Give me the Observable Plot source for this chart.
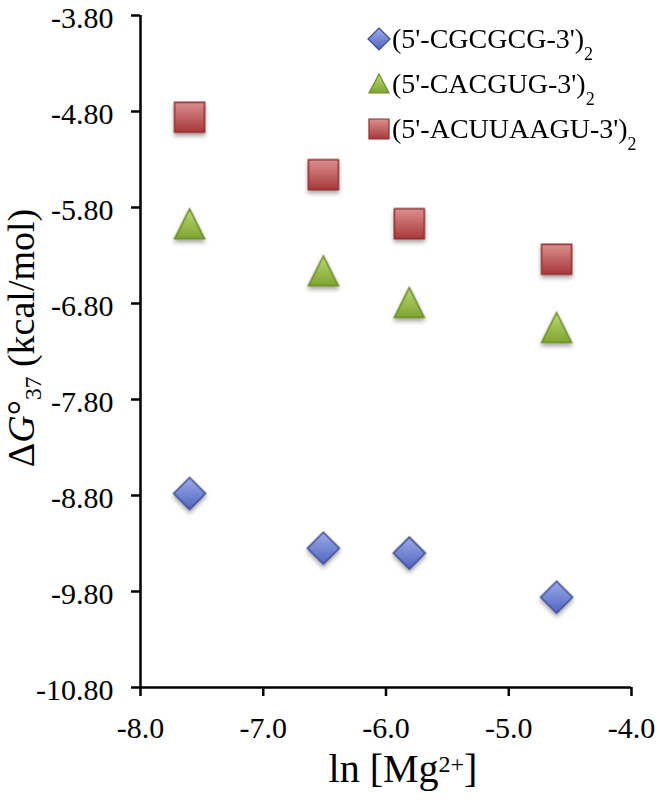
<!DOCTYPE html>
<html>
<head>
<meta charset="utf-8">
<script src="https://cdn.jsdelivr.net/npm/d3@7"></script>
<script src="https://cdn.jsdelivr.net/npm/@observablehq/plot@0.6"></script>
<style>
  html, body { margin: 0; padding: 0; background: #fff; }
  #wrap { position: relative; width: 660px; height: 800px; }
  #legend { position: absolute; left: 366px; top: 16px; font-size: 28px; color: #000; font-family: 'Liberation Serif', 'Times New Roman', serif; }
  #legend span, #legend sub { font-family: 'Liberation Serif', 'Times New Roman', serif; }
  .row { display: flex; align-items: center; height: 45px; white-space: nowrap; }
  .row svg { width: 26px; height: 26px; flex: none; }
  .row sub { font-size: 18px; vertical-align: -12px; line-height: 0; }
</style>
</head>
<body>
<div id="wrap"></div>
<script>
// ---- data ----
const lnMg = [-7.60, -6.51, -5.81, -4.61];
const seriesNames = ["(5'-CGCGCG-3')", "(5'-CACGUG-3')", "(5'-ACUUAAGU-3')"];
const cgcgcg = [-8.78, -9.35, -9.40, -9.86];
const cacgug = [-5.97, -6.46, -6.79, -7.05];
const acuuaagu = [-4.86, -5.46, -5.97, -6.34];
const xTicks = [-8, -7, -6, -5, -4];
const yTicks = [-3.8, -4.8, -5.8, -6.8, -7.8, -8.8, -9.8, -10.8];

const SERIF = "Liberation Serif";

// ---- custom marker shapes (centered on their bounding box) ----
const squareSym = {draw(ctx, size) { const r = Math.sqrt(size / Math.PI); ctx.moveTo(-r, -r); ctx.lineTo(r, -r); ctx.lineTo(r, r); ctx.lineTo(-r, r); ctx.closePath(); }};
const triangleSym = {draw(ctx, size) { const r = Math.sqrt(size / Math.PI); ctx.moveTo(0, -r); ctx.lineTo(r, r); ctx.lineTo(-r, r); ctx.closePath(); }};
const diamondSym = {draw(ctx, size) { const r = Math.sqrt(size / Math.PI); ctx.moveTo(0, -r); ctx.lineTo(r, 0); ctx.lineTo(0, r); ctx.lineTo(-r, 0); ctx.closePath(); }};

const rows = (ys) => lnMg.map((x, i) => ({x, y: ys[i]}));

const chart = Plot.plot({
  width: 660,
  height: 800,
  marginLeft: 140,
  marginRight: 29,
  marginTop: 15,
  marginBottom: 113,
  style: {fontFamily: SERIF, color: "#000", background: "#fff"},
  x: {domain: [-8, -4]},
  y: {domain: [-10.8, -3.8]},
  marks: [
    Plot.axisX(xTicks, {tickFormat: d => d.toFixed(1), tickSize: 9, tickPadding: 20, fontSize: 30, fontFamily: SERIF, strokeWidth: 2.5, label: null}),
    Plot.axisY(yTicks, {tickSize: 9, tickFormat: () => "", strokeWidth: 2.5, label: null}),
    Plot.axisY(yTicks, {tickFormat: d => d.toFixed(2), tickSize: 0, tickPadding: 27, dy: 2.5, fontSize: 30, fontFamily: SERIF, label: null}),
    Plot.ruleX([-8], {stroke: "#000", strokeWidth: 2.5}),
    Plot.ruleY([-10.8], {stroke: "#000", strokeWidth: 2.5}),
    Plot.dot(rows(cgcgcg), {x: "x", y: "y", symbol: diamondSym, r: 16, fill: "url(#gDia)", stroke: "#3b4c8c", strokeWidth: 1.5}),
    Plot.dot(rows(cacgug), {x: "x", y: "y", symbol: triangleSym, r: 15, fill: "url(#gTri)", stroke: "#6a8c2a", strokeWidth: 1.5}),
    Plot.dot(rows(acuuaagu), {x: "x", y: "y", symbol: squareSym, r: 15, fill: "url(#gSq)", stroke: "#8a2d2e", strokeWidth: 1.5})
  ]
});

const svg = d3.select(chart);
const defs = svg.insert("defs", ":first-child");
function grad(id, top, bottom) {
  const g = defs.append("linearGradient").attr("id", id).attr("x1", 0).attr("y1", 0).attr("x2", 0).attr("y2", 1);
  g.append("stop").attr("offset", "0%").attr("stop-color", top);
  g.append("stop").attr("offset", "100%").attr("stop-color", bottom);
}
grad("gDia", "#9eaaea", "#5065c0");
grad("gTri", "#bcd871", "#7ea532");
grad("gSq", "#dc8e8f", "#a8393b");
defs.append("filter").attr("id", "shadow").attr("x", "-50%").attr("y", "-50%").attr("width", "200%").attr("height", "200%")
  .append("feDropShadow").attr("dx", 0).attr("dy", 3).attr("stdDeviation", 2).attr("flood-color", "#000").attr("flood-opacity", 0.35);
svg.selectAll("g[aria-label='dot']").attr("filter", "url(#shadow)");
svg.selectAll("text").attr("font-family", SERIF);
// drop the empty label texts of the ticks-only axis
svg.selectAll("text").filter(function () { return this.textContent === ""; }).remove();

// axis titles with super/subscripts
const xl = svg.append("text").attr("x", 403).attr("y", 782).attr("text-anchor", "middle")
  .attr("font-size", 40).attr("font-family", SERIF).attr("fill", "#000");
xl.append("tspan").text("ln [Mg");
xl.append("tspan").attr("dy", "-0.42em").attr("font-size", "0.6em").text("2+");
xl.append("tspan").attr("dy", "0.25em").text("]");

const yl = svg.append("text").attr("transform", "translate(34,338) rotate(-90)").attr("text-anchor", "middle")
  .attr("font-size", 38).attr("font-family", SERIF).attr("fill", "#000");
yl.append("tspan").text("Δ");
yl.append("tspan").attr("font-style", "italic").text("G");
yl.append("tspan").text("°");
yl.append("tspan").attr("font-size", "0.62em").attr("dy", "0.3em").text("37");
yl.append("tspan").attr("dy", "-0.19em").text(" (kcal/mol)");

const wrap = document.getElementById("wrap");
wrap.appendChild(chart);

// legend
const legend = document.createElement("div");
legend.id = "legend";
const swatches = [
  `<svg viewBox="-13 -13 26 26"><path d="M0,-11L11,0L0,11L-11,0Z" fill="url(#gDia)" stroke="#3b4c8c" stroke-width="1.2"/></svg>`,
  `<svg viewBox="-13 -13 26 26"><path d="M0,-10L10,9L-10,9Z" fill="url(#gTri)" stroke="#6a8c2a" stroke-width="1.2"/></svg>`,
  `<svg viewBox="-13 -13 26 26"><path d="M-10,-10L10,-10L10,10L-10,10Z" fill="url(#gSq)" stroke="#8a2d2e" stroke-width="1.2"/></svg>`
];
seriesNames.forEach((name, i) => {
  const row = document.createElement("div");
  row.className = "row";
  row.innerHTML = swatches[i] + `<span>${name}<sub>2</sub></span>`;
  legend.appendChild(row);
});
wrap.appendChild(legend);
</script>
</body>
</html>
